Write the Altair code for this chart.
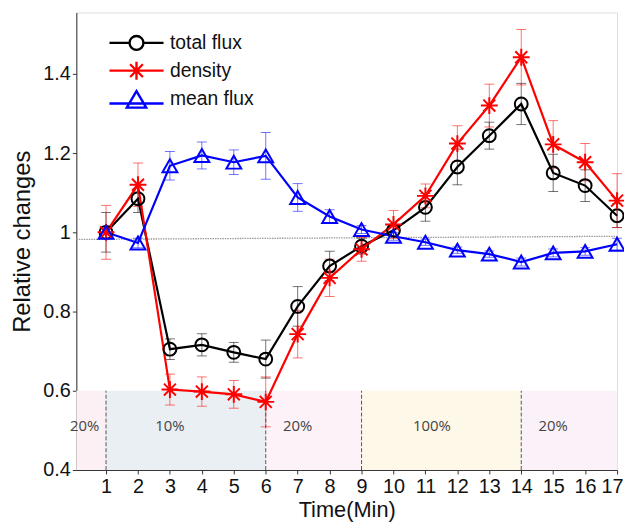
import altair as alt
import pandas as pd

# ---------------- data ----------------
minutes = list(range(1, 18))
series_names = ["total flux", "density", "mean flux"]
series_colors = ["#000000", "#ff0000", "#0000ff"]

total_flux = [1.0, 1.085, 0.705, 0.716, 0.697, 0.68, 0.813, 0.915, 0.965, 1.005,
              1.063, 1.165, 1.244, 1.324, 1.15, 1.118, 1.042]
total_err = [0.05, 0.035, 0.026, 0.028, 0.025, 0.048, 0.05, 0.037, 0.02, 0.015,
             0.035, 0.045, 0.034, 0.052, 0.047, 0.04, 0.03]

density = [1.0, 1.12, 0.603, 0.598, 0.591, 0.572, 0.743, 0.885, 0.957, 1.02,
           1.092, 1.224, 1.32, 1.442, 1.222, 1.177, 1.08]
density_err = [0.068, 0.055, 0.039, 0.037, 0.035, 0.063, 0.06, 0.047, 0.03, 0.035,
               0.03, 0.045, 0.054, 0.07, 0.06, 0.047, 0.068]

mean_flux = [1.0, 0.973, 1.168, 1.194, 1.177, 1.193, 1.088, 1.04, 1.007, 0.99,
             0.975, 0.955, 0.945, 0.925, 0.948, 0.952, 0.97]
mean_err = [0.015, 0.012, 0.036, 0.034, 0.031, 0.059, 0.035, 0.017, 0.01, 0.01,
            0.008, 0.008, 0.008, 0.01, 0.01, 0.01, 0.015]

region_start = [0.07, 1, 6, 9, 14]
region_end = [1, 6, 9, 14, 17]
region_label = ["20%", "10%", "20%", "100%", "20%"]
region_label_x = [0.33, 3.0, 7.0, 11.2, 15.0]
region_colors = ["#fcf0f4", "#eaeff4", "#fcf2f8", "#fdf8e7", "#fbf2f9"]
band_low = [0.4] * 5
band_high = [0.6] * 5
region_text_y = [0.51] * 5
boundaries = [1, 6, 9, 14]

ref_x = [0.07, 17]
ref_y = [0.982, 0.99]

y_ticks = [0.4, 0.6, 0.8, 1.0, 1.2, 1.4]

# ---------------- tables ----------------
rows = []
for name, vals, errs in zip(series_names, [total_flux, density, mean_flux],
                            [total_err, density_err, mean_err]):
    for m, v, e in zip(minutes, vals, errs):
        rows.append({"minute": m, "series": name, "value": v, "lo": v - e, "hi": v + e})
df = pd.DataFrame(rows)

regions = pd.DataFrame({"start": region_start, "end": region_end, "label": region_label,
                        "lx": region_label_x, "low": band_low, "high": band_high,
                        "ty": region_text_y, "color": region_colors})
bounds = pd.DataFrame({"b": boundaries, "low": [0.4] * 4, "high": [0.6] * 4})
ref = pd.DataFrame({"x": ref_x, "y": ref_y})

# ---------------- scales / axes ----------------
FONT = "Liberation Sans"
xs = alt.Scale(domain=[0.07, 17], nice=False, zero=False)
ys = alt.Scale(domain=[0.4, 1.555], nice=False, zero=False)
cs = alt.Scale(domain=series_names, range=series_colors)

x_axis = alt.Axis(values=minutes, format="d", title="Time(Min)", grid=False,
                  labelFontSize=20, labelFont=FONT, labelColor="#111", labelPadding=3,
                  tickSize=4, tickColor="#333", domainColor="#333", labelFlush=True,
                  labelFlushOffset=6,
                  labelOverlap=False, titleFont=FONT, titleFontSize=22,
                  titleFontWeight="normal", titleColor="#111", titlePadding=3)
y_axis = alt.Axis(values=y_ticks, format="~g", title="Relative changes", grid=False,
                  labelFontSize=20, labelFont=FONT, labelColor="#111", labelPadding=2,
                  tickSize=4, tickColor="#333", domainColor="#333", labelFlush=False,
                  labelOverlap=False, titleFont=FONT, titleFontSize=24,
                  titleFontWeight="normal", titleColor="#111", titlePadding=8)


def X(field):
    return alt.X(field, scale=xs, axis=x_axis)


def Y(field):
    return alt.Y(field, scale=ys, axis=y_axis)


# ---------------- layers ----------------
rects = alt.Chart(regions).mark_rect().encode(
    x=X("start:Q"), x2="end:Q", y=Y("low:Q"), y2="high:Q",
    fill=alt.Fill("color:N", scale=None),
)

dividers = alt.Chart(bounds).mark_rule(color="#555", strokeWidth=1, strokeDash=[4, 2]).encode(
    x=X("b:Q"), y=Y("low:Q"), y2="high:Q",
)

region_text = alt.Chart(regions).mark_text(font="Open Sans", fontSize=15, color="#444").encode(
    x=X("lx:Q"), y=Y("ty:Q"), text="label:N",
)

ref_line = alt.Chart(ref).mark_line(color="#999999", strokeWidth=1.3, strokeDash=[1.5, 1]).encode(
    x=X("x:Q"), y=Y("y:Q"),
)

STAR = "M-1,0H1M0,-1V1M-0.71,-0.71L0.71,0.71M-0.71,0.71L0.71,-0.71"
marker_shapes = ["circle", STAR, "triangle-up"]
marker_sizes = [169, 289, 225]

err_layers, line_layers, point_layers = [], [], []
for name, col, shp, sz in zip(series_names, series_colors, marker_shapes, marker_sizes):
    base = alt.Chart(df).transform_filter(alt.datum.series == name)
    err_layers.append(base.mark_rule(strokeWidth=1, color=col, opacity=0.55).encode(
        x=X("minute:Q"), y=Y("lo:Q"), y2="hi:Q"))
    err_layers.append(base.mark_tick(orient="horizontal", size=10, thickness=1, color=col,
                                     opacity=0.55).encode(x=X("minute:Q"), y=Y("lo:Q")))
    err_layers.append(base.mark_tick(orient="horizontal", size=10, thickness=1, color=col,
                                     opacity=0.55).encode(x=X("minute:Q"), y=Y("hi:Q")))
    line_layers.append(base.mark_line(strokeWidth=2.2, color=col).encode(
        x=X("minute:Q"), y=Y("value:Q")))
    point_layers.append(base.mark_point(shape=shp, size=sz, filled=False, strokeWidth=2,
                                        color=col, opacity=1).encode(
        x=X("minute:Q"), y=Y("value:Q")))

# legend symbols: line + marker paths (unit = 7 px with symbolSize 196)
LEG_CIRCLE = "M-3.9,0H-1M1,0H3.9M-1,0A1,1,0,1,0,1,0A1,1,0,1,0,-1,0"
LEG_STAR = "M-3.9,0H3.9M0,-1.3V1.3M-0.92,-0.92L0.92,0.92M-0.92,0.92L0.92,-0.92"
LEG_TRI = "M-3.9,0.6H3.9M0,-1.2L1.4,1.2L-1.4,1.2Z"
leg_shapes = alt.Scale(domain=series_names, range=[LEG_CIRCLE, LEG_STAR, LEG_TRI])

legend = alt.Legend(title=None, orient="none", legendX=51, legendY=21, symbolSize=196,
                    symbolStrokeWidth=2.4, symbolOpacity=1, labelFontSize=19.5,
                    labelFont=FONT, labelColor="#111", labelOffset=24, rowPadding=1,
                    padding=0)

legend_layer = alt.Chart(df).mark_point(filled=False, strokeWidth=2.4, opacity=1, clip=True,
                                        yOffset=-5000).encode(
    x=X("minute:Q"), y=Y("value:Q"),
    color=alt.Color("series:N", scale=cs, legend=legend),
    shape=alt.Shape("series:N", scale=leg_shapes, legend=legend),
)

chart = alt.layer(
    rects, dividers, region_text, ref_line, *err_layers, *line_layers,
    *point_layers, legend_layer
).properties(
    width=546, height=462,
    autosize=alt.AutoSizeParams(type="none"),
    padding={"left": 69, "top": 2, "right": 7, "bottom": 50},
).configure_view(
    stroke="#aaaaaa", strokeWidth=1
).configure(background="white")

chart.save("out.html", embed_options={"renderer": "svg", "actions": False})
